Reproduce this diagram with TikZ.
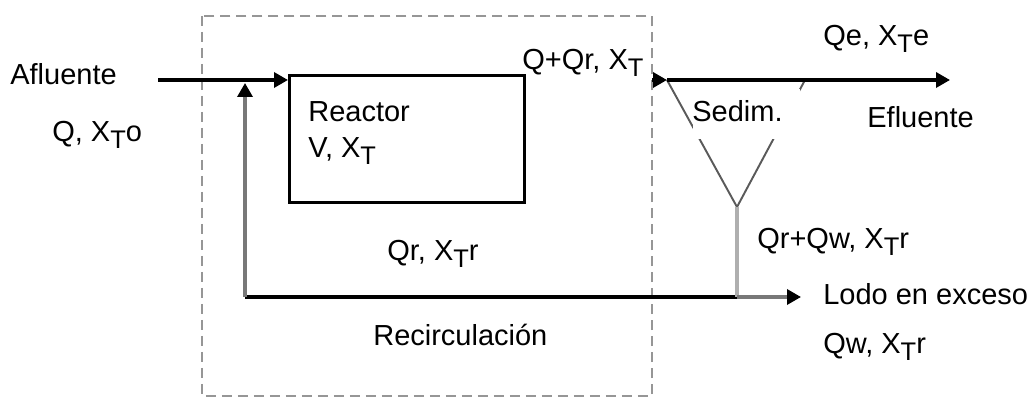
\documentclass[tikz,border=0pt]{standalone}
\usepackage{fontspec}
\setmainfont{Liberation Sans}
\usetikzlibrary{arrows.meta,calc}
\definecolor{linegray}{RGB}{120,120,120}
\definecolor{lightgray}{RGB}{175,175,175}
\definecolor{boxgray}{RGB}{150,150,150}
\definecolor{settlergray}{RGB}{90,90,90}
\newcommand{\XT}{X\raisebox{-3.5pt}{\fontsize{14.5}{14.5}\selectfont T}}

\begin{document}
\begin{tikzpicture}[x=0.02cm,y=-0.02cm,every node/.style={font=\fontsize{16.5}{20}\selectfont,inner sep=0pt,anchor=base west},
    flow/.style={line width=1.9pt},
    tip/.style={-{Triangle[length=0.28cm,width=0.3cm,color=black]}}]
    \useasboundingbox (0,0) rectangle (1031,398);
    \draw[boxgray,line width=1.5pt,dash pattern=on 0.2cm off 0.12cm] (202,16) rectangle (652,396);
    \node[draw,line width=1.9pt,minimum width=4.7cm,minimum height=2.54cm,anchor=north west] (reactor) at (288,74) {};
    \node (rname) at (308,122) {Reactor};
    \node (rvol) at (308,158) {V, \XT};
    \coordinate (in) at (158,80);
    \coordinate (s1) at (667,80);
    \coordinate (s2) at (805,80);
    \coordinate (s3) at (737,207);
    \coordinate (rc) at (245,297);
    \coordinate (rl) at (s3 |- rc);
    \coordinate (rtop) at (245,83);
    \coordinate (qout) at (652,80);
    \coordinate (eff) at (950,80);
    \coordinate (waste) at (801,297);
    \draw[settlergray,line width=1.1pt] (s1) -- (s3) -- (s2);
    \fill[white] (693,89) rectangle (800,139);
    \node (sedim) at (692,122) {Sedim.};
    \draw[flow,tip] (in) -- (in -| reactor.west);
    \draw[flow,tip] (qout) -- (s1);
    \draw[flow,tip] (s1) -- (eff);
    \draw[flow] (rl) -- (rc);
    \draw[flow,linegray,tip] (rc) -- (rtop);
    \draw[flow,lightgray] (s3) -- (rl);
    \draw[flow,linegray,tip] (rl) -- (waste);
    \node (afl) at (10,85) {Afluente};
    \node (qin) at (52,142) {Q, \XT o};
    \node (qrx) at (522,70) {Q+Qr, \XT};
    \node (qe) at (823,46) {Qe, \XT e};
    \node (efl) at (867,128) {Efluente};
    \node (qrw) at (757,249) {Qr+Qw, \XT r};
    \node (lodo) at (823,305) {Lodo en exceso};
    \node (qw) at (823,354) {Qw, \XT r};
    \node (qr) at (387,261) {Qr, \XT r};
    \node (recirc) at (373,346) {Recirculación};
  \end{tikzpicture}
\end{document}
